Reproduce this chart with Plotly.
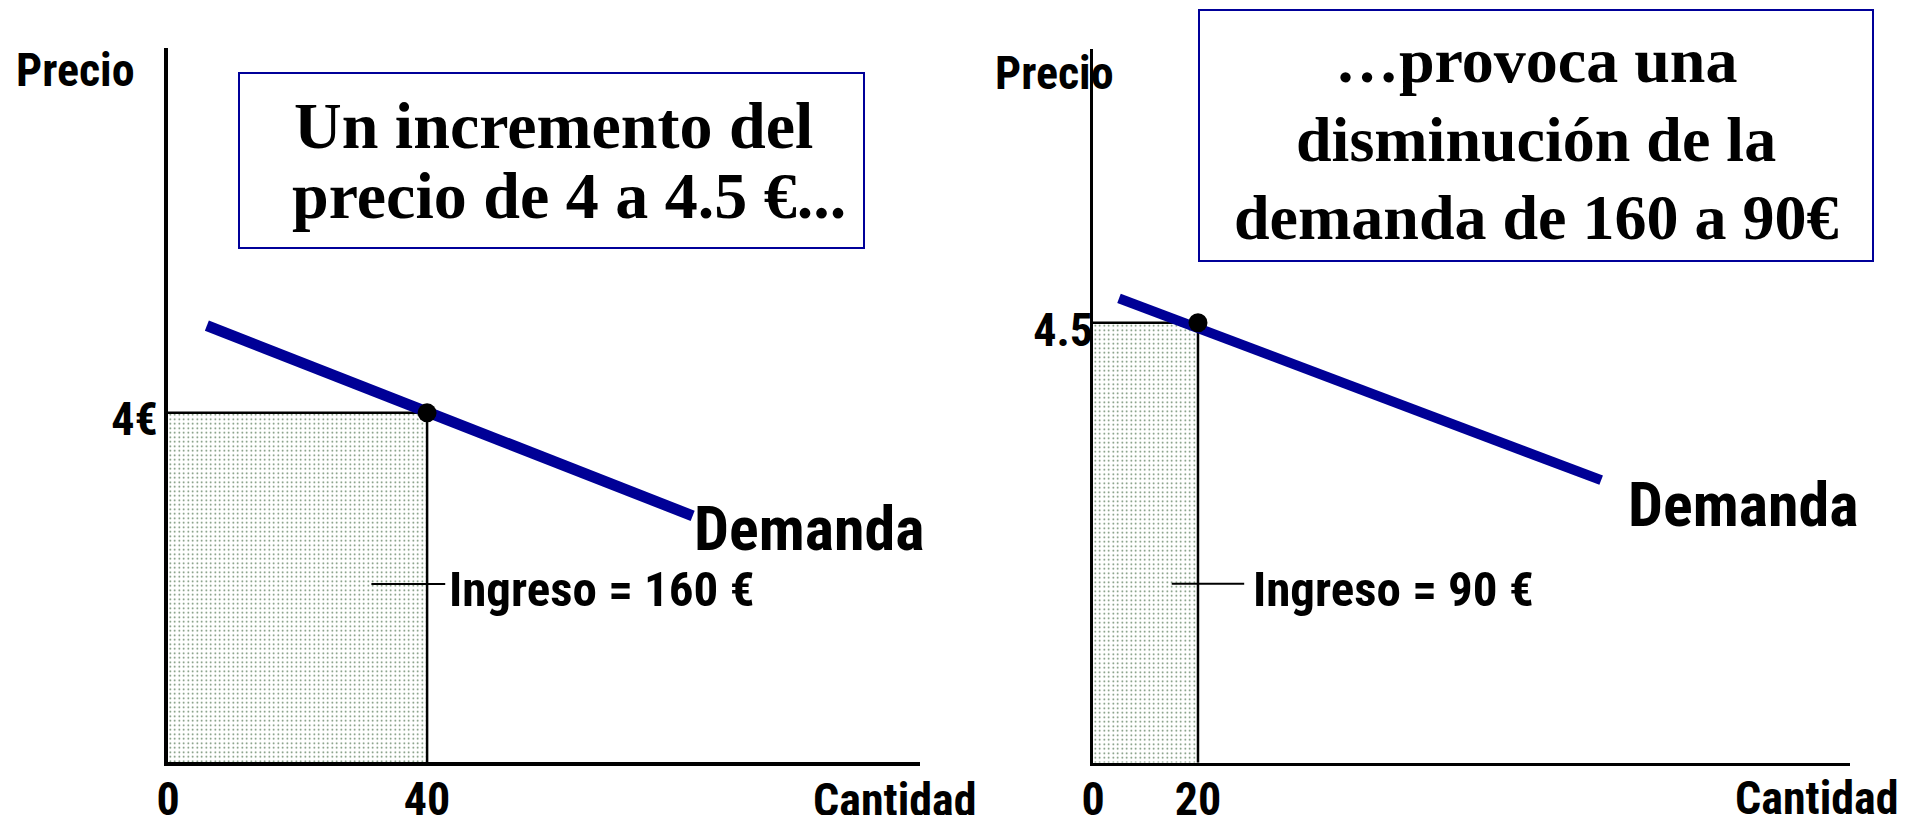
import plotly.graph_objects as go

W, H = 1919, 823          # browser window
OFF = 8                   # default page margin around the figure
FW, FH = W - 2 * OFF, H - 2 * OFF

# ---------------- data ----------------
left_quantity = 40
left_price = 4
right_quantity = 20
right_price = 4.5

demand_left_x = [6, 81]
demand_left_y = [5.0, 2.82]
demand_right_x = [4.95, 96.8]
demand_right_y = [4.75, 2.89]

left_price_ticktext = ["4€"]
right_price_ticktext = ["4.5"]
left_qty_ticktext = ["0", "40"]
right_qty_ticktext = ["0", "20"]

revenue_labels = ["Ingreso = 160 €", "Ingreso = 90 €"]
demand_label = "Demanda"
price_title = "Precio"
qty_title = "Cantidad"
box_left_lines = ["Un incremento del", "precio de 4 a 4.5 €..."]
box_right_lines = ["…provoca una", "disminución de la", "demanda de 160 a 90€"]

leader_left_x = [31.4, 42.8]
leader_left_y = 2.04
leader_right_x = [15.0, 28.8]
leader_right_y = 1.83

# ---------------- style ----------------
NARROW = "Roboto Condensed, Liberation Sans Narrow, Arial Narrow, Liberation Sans, sans-serif"
SERIF = "Liberation Serif, Times New Roman, serif"
NAVY = "#000096"
BOXBLUE = "#000099"


def px(xp):
    return (xp - OFF) / FW


def py(yp):
    return 1 - (yp - OFF) / FH


fig = go.Figure()

pattern = dict(shape=".", size=4.5, solidity=0.1, fgcolor="#557755", bgcolor="white")

for (q, p, dx, dy, ax, ay, lw) in [
    (left_quantity, left_price, demand_left_x, demand_left_y, "x", "y", 11),
    (right_quantity, right_price, demand_right_x, demand_right_y, "x2", "y2", 10),
]:
    fig.add_trace(go.Scatter(
        x=[0, q, q, 0, 0], y=[0, 0, p, p, 0], fill="toself", mode="none",
        fillpattern=pattern, fillcolor="white", xaxis=ax, yaxis=ay, hoverinfo="skip"))
    fig.add_trace(go.Scatter(
        x=[0, q, q], y=[p, p, 0], mode="lines", line=dict(color="black", width=2.5),
        xaxis=ax, yaxis=ay, hoverinfo="skip"))
    fig.add_trace(go.Scatter(
        x=dx, y=dy, mode="lines", line=dict(color=NAVY, width=lw),
        xaxis=ax, yaxis=ay))
    fig.add_trace(go.Scatter(
        x=[q], y=[p], mode="markers", marker=dict(color="black", size=19, symbol="circle"),
        xaxis=ax, yaxis=ay))

tickfont = dict(family=NARROW, size=46, color="black", weight="bold")

common = dict(showgrid=False, zeroline=False, showline=True, linecolor="black",
              ticks="", tickmode="array", tickfont=tickfont, fixedrange=True,
              automargin=False)

fig.update_layout(
    template="none",
    width=FW, height=FH,
    margin=dict(l=0, r=0, t=0, b=0, pad=0, autoexpand=False),
    paper_bgcolor="white", plot_bgcolor="white",
    showlegend=False,
    xaxis=dict(common, domain=[px(168), px(920)], range=[0, 116.1], anchor="y",
               linewidth=4, tickvals=[0, left_quantity], ticktext=left_qty_ticktext,
               ticklabelstandoff=-6),
    yaxis=dict(common, domain=[py(762), py(48)], range=[0, 8.18], anchor="x",
               linewidth=4, tickvals=[left_price], ticktext=left_price_ticktext,
               ticklabelstandoff=-3, ticklabelshift=6),
    xaxis2=dict(common, domain=[px(1093), px(1850)], range=[0, 144.2], anchor="y2",
                linewidth=2.5, tickvals=[0, right_quantity], ticktext=right_qty_ticktext,
                ticklabelstandoff=-6),
    yaxis2=dict(common, domain=[py(762.75), py(49)], range=[0, 7.30], anchor="x2",
                linewidth=2.5, tickvals=[right_price], ticktext=right_price_ticktext,
                ticklabelstandoff=-12, ticklabelshift=7),
)

label_font = dict(family=NARROW, size=46, color="black", weight="bold")
big_font = dict(family=NARROW, size=62, color="black", weight="bold")
rev_font = dict(family=NARROW, size=49, color="black", weight="bold")

ann = []


def add_text(text, x, y, font, xanchor="center"):
    ann.append(dict(text=text, x=px(x), y=py(y), xref="paper", yref="paper",
                    xanchor=xanchor, yanchor="middle", showarrow=False, font=font))


add_text(price_title, 75, 70, label_font)
add_text(price_title, 1054, 73, label_font)
add_text(qty_title, 895, 800, label_font)
add_text(qty_title, 1817, 798, label_font)
add_text(demand_label, 692, 528, big_font, xanchor="left")
add_text(demand_label, 1626, 505, big_font, xanchor="left")
add_text(revenue_labels[0], 447, 589, rev_font, xanchor="left")
add_text(revenue_labels[1], 1251, 589, rev_font, xanchor="left")

box1_font = dict(family=SERIF, size=66, color="black", weight="bold")
box2_font = dict(family=SERIF, size=64, color="black", weight="bold")
for line, (cx, cy) in zip(box_left_lines, [(553, 126), (569, 196)]):
    add_text(line, cx, cy, box1_font)
for line, cy in zip(box_right_lines, [61, 139.5, 217]):
    add_text(line, 1536, cy, box2_font)

fig.update_layout(annotations=ann)

shapes = [
    dict(type="rect", xref="paper", yref="paper", x0=px(239), x1=px(864), y0=py(248), y1=py(73),
         line=dict(color=BOXBLUE, width=2), fillcolor="rgba(0,0,0,0)"),
    dict(type="rect", xref="paper", yref="paper", x0=px(1199), x1=px(1873), y0=py(261), y1=py(10),
         line=dict(color=BOXBLUE, width=2), fillcolor="rgba(0,0,0,0)"),
    dict(type="line", xref="x", yref="y", x0=leader_left_x[0], x1=leader_left_x[1],
         y0=leader_left_y, y1=leader_left_y, line=dict(color="black", width=2)),
    dict(type="line", xref="x2", yref="y2", x0=leader_right_x[0], x1=leader_right_x[1],
         y0=leader_right_y, y1=leader_right_y, line=dict(color="black", width=2)),
]
fig.update_layout(shapes=shapes)

fig.write_html("out.html")
